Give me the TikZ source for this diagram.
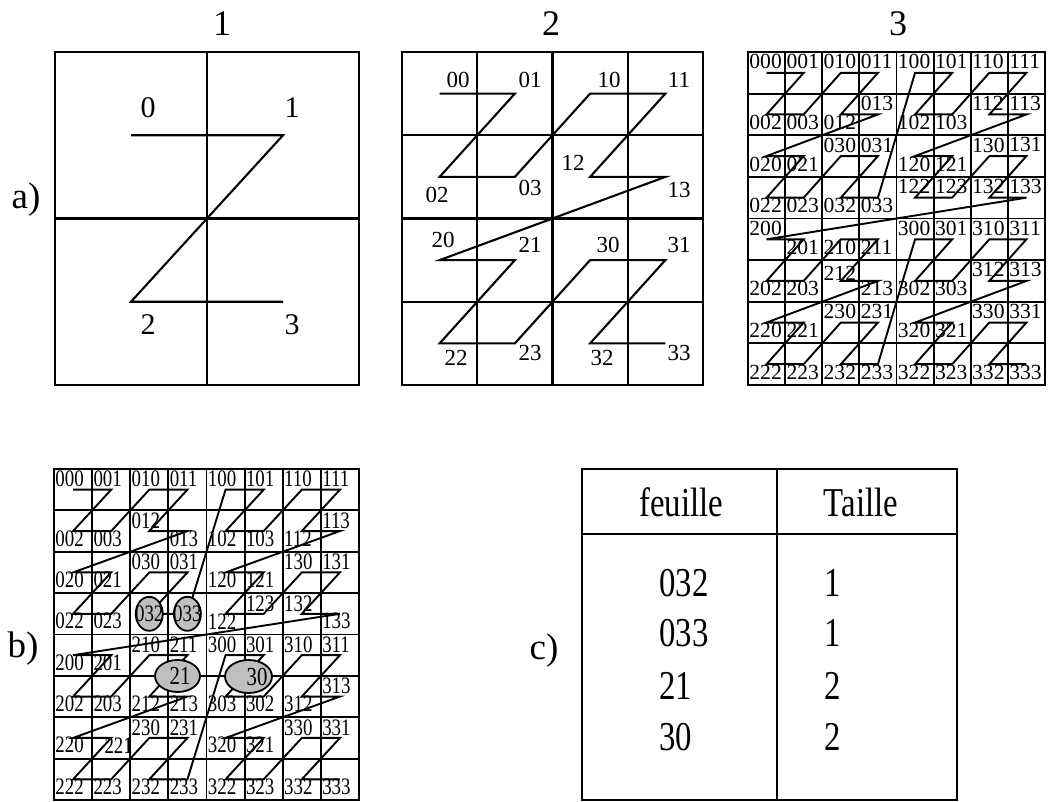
\documentclass[tikz,border=0pt]{standalone}
\usepackage{fontspec}
\setmainfont{Liberation Serif}
\newfontfamily\narrowrm[FakeStretch=0.8]{Liberation Serif}
\usetikzlibrary{shapes.geometric}
\newcommand{\fsz}[1]{\fontsize{#1pt}{#1pt}\selectfont}
% Z-order (Morton) path through the cell centres: cell w, cell h, last index
\newcommand{\zorder}[3]{%
  \draw[zcrv] ({0.5*#1},{0.5*#2})
    \foreach \i in {1,...,#3}{
      -- ({(mod(\i,2)+2*mod(floor(\i/4),2)+4*mod(floor(\i/16),2)+0.5)*#1},
          {(mod(floor(\i/2),2)+2*mod(floor(\i/8),2)+4*mod(floor(\i/32),2)+0.5)*#2})
    };%
}
% square grid: cell w, cell h, cells per side
\newcommand{\cells}[3]{%
  \foreach \k in {0,...,#3}
    \draw[grd] ({\k*#1},0) -- ({\k*#1},{#3*#2}) (0,{\k*#2}) -- ({#3*#1},{\k*#2});%
}
\tikzset{
  grd/.style={line width=0.95pt,line cap=rect},
  zcrv/.style={line width=0.95pt},
  ttl/.style={font=\fsz{18}},
  tag/.style={font=\fsz{18.5}},
  labA/.style={font=\fsz{15},inner sep=0pt},
  labB/.style={font=\fsz{11.5},inner sep=0pt},
  cellC/.style={font=\fsz{10.8},inner sep=0.5pt},
  cellB/.style={font=\narrowrm\fsz{11.8},inner sep=0.5pt},
  lt/.style={anchor=north west,yshift=9.9pt},
  lb/.style={anchor=south west,yshift=-8.3pt},
  lm/.style={anchor=west,yshift=4pt},
  ls/.style={anchor=south west,yshift=-8.3pt,xshift=5.5pt},
  blob/.style={shape=ellipse,draw,fill=gray!50,line width=0.9pt,inner sep=0pt,
    execute at begin node={\hbox to 0pt\bgroup\hss},execute at end node={\hss\egroup}},
  le/.style={blob,anchor=center,xshift=9.5pt,minimum width=13.5pt,minimum height=17pt},
  tabtxt/.style={font=\narrowrm\fsz{20.5},inner sep=0pt},
}

\begin{document}
\begin{tikzpicture}[x=0.5pt,y=-0.5pt]
\useasboundingbox (0,0) rectangle (1051,802);

% titles and panel tags
\node[ttl] (t1) at (222,24) {1};
\node[ttl] (t2) at (551,24) {2};
\node[ttl] (t3) at (898,24) {3};
\node[tag] (ta) at (26,200) {a)};
\node[tag] (tb) at (23,649) {b)};
\node[tag] (tc) at (544,651) {c)};

% ================= a) level 1 =================
\begin{scope}[shift={(55,52)},grd/.append style={line width=1.05pt},zcrv/.append style={line width=1.05pt}]
  \cells{152}{166.5}{2}
  \zorder{152}{166.5}{3}
  \foreach \lab/\x/\y in {0/93/56,1/237/56,2/93/273,3/237/273}
    \node[labA] (p\lab) at (\x,\y) {\lab};
\end{scope}

% ================= a) level 2 =================
\begin{scope}[shift={(402,52)},grd/.append style={line width=1.05pt},zcrv/.append style={line width=1.05pt}]
  \cells{75.25}{83.25}{4}
  \zorder{75.25}{83.25}{15}
  \foreach \lab/\x/\y in {00/56/28,01/128/28,10/207/28,11/277/28,
      02/35/143,03/128/136,12/171/111,13/277/138,
      20/41/188,21/128/193,30/206/193,31/277/193,
      22/54/306,23/128/301,32/200/306,33/277/301}
    \node[labB] (q\lab) at (\x,\y) {\lab};
\end{scope}

% ================= a) level 3 =================
\begin{scope}[shift={(748,52)}]
  \def\cw{37.125}\def\ch{41.625}
  \cells{\cw}{\ch}{8}
  \zorder{\cw}{\ch}{63}
  \foreach \r/\row in {
      0/{000/lt,001/lt,010/lt,011/lt,100/lt,101/lt,110/lt,111/lt},
      1/{002/lb,003/lb,012/lb,013/lt,102/lb,103/lb,112/lt,113/lt},
      2/{020/lb,021/lb,030/lt,031/lt,120/lb,121/lb,130/lt,131/lt},
      3/{022/lb,023/lb,032/lb,033/lb,122/lt,123/lt,132/lt,133/lt},
      4/{200/lt,201/lb,210/lb,211/lb,300/lt,301/lt,310/lt,311/lt},
      5/{202/lb,203/lb,212/lm,213/lb,302/lb,303/lb,312/lt,313/lt},
      6/{220/lb,221/lb,230/lt,231/lt,320/lb,321/lb,330/lt,331/lt},
      7/{222/lb,223/lb,232/lb,233/lb,322/lb,323/lb,332/lb,333/lb}}
    \foreach \lab/\s [count=\c from 0] in \row
      \node[cellC,\s] (c\lab) at ({\c*\cw},{(\r+0.5)*\ch}) {\lab};
\end{scope}

% ================= b) leaves kept =================
\begin{scope}[shift={(54,469)}]
  \def\cw{38.125}\def\ch{41.375}
  \cells{\cw}{\ch}{8}
  \zorder{\cw}{\ch}{63}
  \foreach \r/\row in {
      0/{000/lt,001/lt,010/lt,011/lt,100/lt,101/lt,110/lt,111/lt},
      1/{002/lb,003/lb,012/lt,013/lb,102/lb,103/lb,112/lb,113/lt},
      2/{020/lb,021/lb,030/lt,031/lt,120/lb,121/lb,130/lt,131/lt},
      3/{022/lb,023/lb,032/le,033/le,122/lb,123/lt,132/lt,133/lb},
      4/{200/lb,201/lb,210/lt,211/lt,300/lt,301/lt,310/lt,311/lt},
      5/{202/lb,203/lb,212/lb,213/lb,303/lb,302/lb,312/lb,313/lt},
      6/{220/lb,221/ls,230/lt,231/lt,320/lb,321/lb,330/lt,331/lt},
      7/{222/lb,223/lb,232/lb,233/lb,322/lb,323/lb,332/lb,333/lb}}
    \foreach \lab/\s [count=\c from 0] in \row
      \node[cellB,\s] (b\lab) at ({\c*\cw},{(\r+0.5)*\ch}) {\lab};
  \node[blob,font=\narrowrm\fsz{13},minimum width=22.5pt,minimum height=16pt] (b21) at (123.5,207) {\hspace*{2.5pt}21};
  \node[blob,font=\narrowrm\fsz{13},minimum width=23.5pt,minimum height=16.5pt] (b30) at (194.5,207.5) {\hspace*{8.5pt}30};
\end{scope}

% ================= c) table =================
\draw[line width=0.95pt] (582,469) rectangle (957,800);
\draw[line width=0.95pt] (582,534) -- (957,534) (777,469) -- (777,800);
\node[tabtxt] (hf) at (681,502) {feuille};
\node[tabtxt] (ht) at (861,502) {Taille};
\foreach \leaf/\size/\y in {032/1/583,033/1/633,21/2/686,30/2/737}{
  \node[tabtxt,anchor=west] (f\leaf) at (659,\y) {\leaf};
  \node[tabtxt] (s\leaf) at (833,\y) {\size};
}

\end{tikzpicture}
\end{document}
